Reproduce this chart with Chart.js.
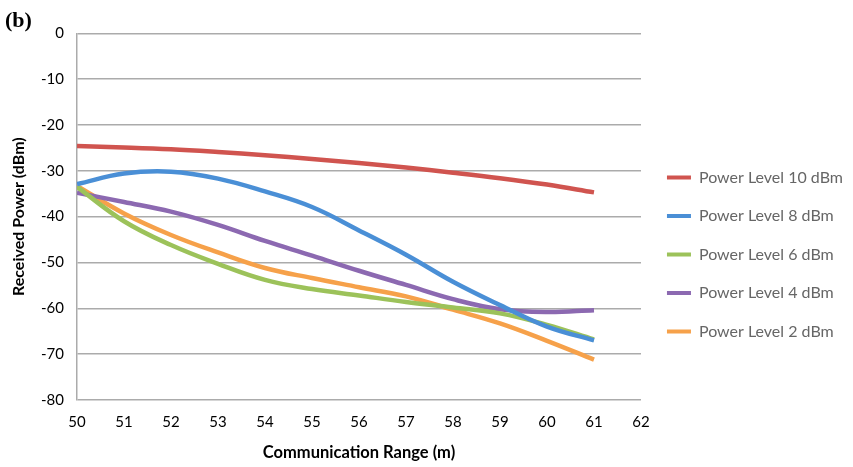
<!DOCTYPE html>
<html>
<head>
<meta charset="utf-8">
<script src="https://cdn.jsdelivr.net/npm/chart.js@4.4.1/dist/chart.umd.min.js"></script>
<style>
  html, body { margin: 0; padding: 0; background: #ffffff; }
  #wrap { width: 853px; height: 467px; position: relative; }
</style>
</head>
<body>
<div id="wrap"><canvas id="chart"></canvas></div>
<script>
// Communication range (m) at which received power was sampled
const ranges = [50, 51, 52, 53, 54, 55, 56, 57, 58, 59, 60, 61];

// Received power (dBm) for each transmit power level
const level10 = [-24.6, -24.9, -25.3, -25.9, -26.6, -27.4, -28.3, -29.3, -30.4, -31.6, -33.0, -34.7];
const level8  = [-32.9, -30.6, -30.2, -31.7, -34.5, -37.9, -43.0, -48.3, -54.2, -59.3, -64.0, -67.0];
const level6  = [-33.5, -41.0, -46.2, -50.3, -53.8, -55.8, -57.2, -58.6, -59.8, -61.1, -63.6, -66.8];
const level4  = [-34.8, -36.8, -38.9, -41.8, -45.3, -48.5, -51.8, -54.9, -58.0, -60.2, -60.8, -60.4];
const level2  = [-33.3, -39.3, -44.0, -47.8, -51.2, -53.4, -55.4, -57.4, -60.3, -63.3, -67.1, -71.2];

const seriesNames = ['Power Level 10 dBm', 'Power Level 8 dBm', 'Power Level 6 dBm', 'Power Level 4 dBm', 'Power Level 2 dBm'];
const seriesValues = [level10, level8, level6, level4, level2];
const seriesColors = ['#D0544F', '#4A8FD6', '#9CC25A', '#8C69B1', '#F6A14A'];

const tickFont = { family: 'Lato', size: 15 };
const titleFont = { family: 'Lato', size: 16, weight: 'bold' };
const gridColor = '#ababab';
const textColor = '#000000';

const datasets = seriesNames.map((name, i) => ({
  label: name,
  data: ranges.map((x, j) => ({ x: x, y: seriesValues[i][j] })),
  borderColor: seriesColors[i],
  backgroundColor: seriesColors[i],
  borderWidth: 4.5,
  pointRadius: 0,
  tension: 0.4,
  fill: false
}));

new Chart(document.getElementById('chart'), {
  type: 'line',
  data: { datasets: datasets },
  options: {
    responsive: true,
    maintainAspectRatio: false,
    animation: false,
    devicePixelRatio: 1,
    layout: { padding: { left: 5, right: 0, top: 0, bottom: 0 } },
    plugins: {
      tooltip: { enabled: false },
      title: {
        display: true,
        text: '(b)',
        align: 'start',
        color: '#000000',
        font: { family: 'Liberation Serif', size: 22, weight: 'bold', lineHeight: 1 },
        padding: { top: 10, bottom: 1.3 }
      },
      legend: {
        position: 'right',
        align: 'start',
        maxWidth: 240,
        title: {
          display: true,
          text: ' ',
          font: { size: 1, lineHeight: 1 },
          padding: { top: 146, bottom: 0 }
        },
        labels: {
          font: { family: 'Lato', size: 16 },
          color: textColor,
          boxWidth: 24,
          boxHeight: 4,
          padding: 22.5,
          generateLabels: (chart) => chart.data.datasets.map((ds, i) => ({
            text: ds.label,
            fillStyle: ds.borderColor,
            strokeStyle: ds.borderColor,
            lineWidth: 0,
            datasetIndex: i,
            hidden: false
          }))
        }
      }
    },
    scales: {
      x: {
        type: 'linear',
        min: 50,
        max: 62,
        ticks: { stepSize: 1, font: tickFont, color: textColor, padding: 13, maxRotation: 0 },
        grid: { display: false, drawTicks: false },
        border: { display: false },
        title: {
          display: true,
          text: 'Communication Range (m)',
          font: { family: 'Lato', size: 16.5, weight: 'bold' },
          color: textColor,
          padding: { top: 0, bottom: 4 }
        },
        afterFit: (s) => { s.height = 67; }
      },
      y: {
        min: -80,
        max: 0,
        ticks: { stepSize: 10, font: tickFont, color: textColor, padding: 13 },
        grid: { color: gridColor, lineWidth: 1.5, drawTicks: false },
        border: { display: true, color: gridColor, width: 1.5 },
        title: {
          display: true,
          text: 'Received Power (dBm)',
          font: titleFont,
          color: textColor,
          padding: { top: 4.5, bottom: 0 }
        },
        afterFit: (s) => { s.width = 72; }
      },
      gap: {
        type: 'linear',
        position: 'right',
        display: true,
        ticks: { display: false },
        grid: { display: false, drawTicks: false },
        border: { display: false },
        afterFit: (s) => { s.width = Math.max(0, 853 - s.chart.legend.width - 641); }
      }
    }
  }
});
</script>
</body>
</html>
